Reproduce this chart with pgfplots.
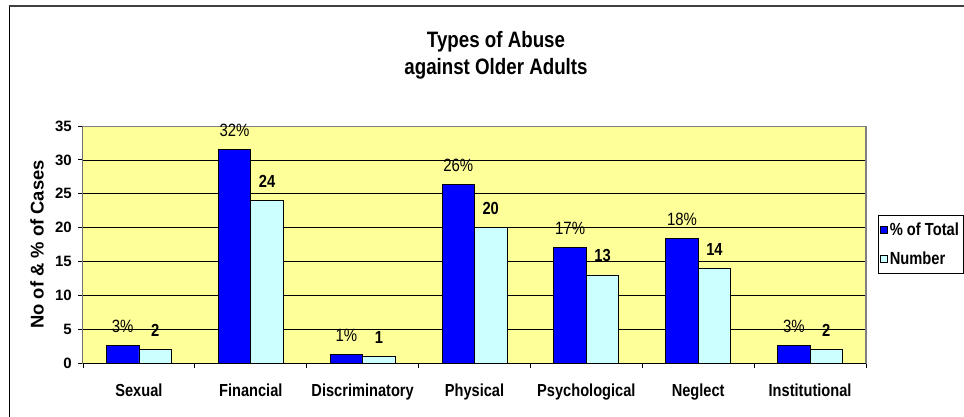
\documentclass[border=0pt]{standalone}
\usepackage{pgfplots}
\pgfplotsset{compat=1.18}
\usepackage{fontspec}
\setmainfont{Liberation Sans}
% the reference text looks vertically stretched: taller size, narrower glyphs
\newfontfamily\tallfont{Liberation Sans}[FakeStretch=0.84]

\definecolor{plotbg}{HTML}{FFFF99}
\definecolor{pctblue}{HTML}{0000FF}
\definecolor{numcyan}{HTML}{CCFFFF}
\definecolor{framegray}{HTML}{808080}
\definecolor{topline}{HTML}{404040}

\begin{document}
\begin{tikzpicture}
\path[use as bounding box] (0,0) rectangle (964pt,416pt);
% outer chart frame (only top and left show)
\draw[black, line width=1pt] (9.5pt,-5pt) -- (9.5pt,409.5pt);
\draw[topline, line width=2pt] (8.5pt,409.5pt) -- (975pt,409.5pt);
\begin{axis}[
  at={(83pt,53pt)}, anchor=south west,
  scale only axis, width=783pt, height=237pt,
  ybar=0pt, bar width=32.5pt,
  xmin=-0.5, xmax=6.5, ymin=0, ymax=35,
  xtick={-0.5,0.5,...,6.5},
  x tick label as interval,
  xticklabels={Sexual,Financial,Discriminatory,Physical,Psychological,Neglect,Institutional},
  ytick={0,5,...,35},
  ymajorgrids, major grid style={black, line width=0.6pt},
  tick pos=left, tick align=outside, major tick length=5pt,
  tick style={black, line width=0.8pt},
  axis line style={framegray, line width=1pt},
  axis background/.style={fill=plotbg},
  /pgf/number format/assume math mode=true,
  xticklabel style={font=\tallfont\fontsize{17.4}{19}\selectfont\bfseries, yshift=-12pt},
  yticklabel style={font=\fontsize{15}{17}\selectfont\bfseries, inner sep=0pt, xshift=-6pt},
  title={Types of Abuse\\against Older Adults},
  title style={font=\tallfont\fontsize{22.3}{27}\selectfont\bfseries, align=center,
    at={(axis description cs:0.5,1)}, anchor=south, inner sep=0pt, xshift=21.5pt, yshift=41pt},
  ylabel={No of \& \% of Cases},
  ylabel style={font=\fontsize{18.4}{20}\selectfont\bfseries,
    at={(axis description cs:-0.0587,0.5)}, anchor=center},
  legend style={at={(axis description cs:1.0153,0.6245)}, anchor=north west,
    draw=black, fill=white, font=\tallfont\fontsize{17.5}{19}\selectfont\bfseries,
    inner xsep=2pt, inner ysep=6pt, row sep=10pt},
  legend cell align=left,
  legend image code/.code={\draw[#1, draw=black, line width=0.6pt] (0pt,-3.5pt) rectangle (7pt,3.5pt);},
]
\addplot[fill=pctblue, draw=black, line width=0.8pt,
  nodes near coords={\pgfmathprintnumber[fixed,precision=0]{\pgfplotspointmeta}\%},
  every node near coord/.append style={font=\tallfont\fontsize{17.8}{19}\selectfont, black, anchor=base, inner sep=0pt, yshift=13pt}]
  coordinates {(0,2.63) (1,31.58) (2,1.32) (3,26.32) (4,17.11) (5,18.42) (6,2.63)};
\addlegendentry{\% of Total}
\addplot[fill=numcyan, draw=black, line width=0.8pt,
  nodes near coords,
  every node near coord/.append style={font=\tallfont\fontsize{17.5}{19}\selectfont\bfseries, black, anchor=base, inner sep=0pt, yshift=13pt}]
  coordinates {(0,2) (1,24) (2,1) (3,20) (4,13) (5,14) (6,2)};
\addlegendentry{Number}
\draw[black, line width=1pt] (rel axis cs:0,1) -- (rel axis cs:0,0) -- (rel axis cs:1,0);
\draw[framegray, line width=1.2pt] (rel axis cs:0,1) -- (rel axis cs:1,1) -- (rel axis cs:1,0);
\end{axis}
\end{tikzpicture}
\end{document}
